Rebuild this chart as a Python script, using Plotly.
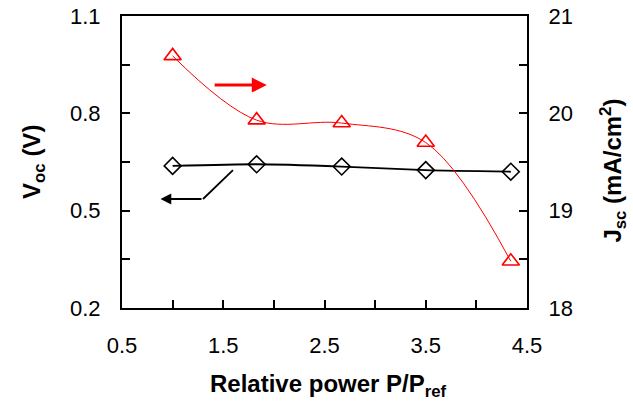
import plotly.graph_objects as go

power = [1.0, 1.83, 2.67, 3.5, 4.34]
voc = [0.638, 0.643, 0.636, 0.625, 0.620]
jsc = [20.59, 19.93, 19.90, 19.70, 18.48]

FONT = "Liberation Sans, Arial, sans-serif"

fig = go.Figure()
fig.add_trace(go.Scatter(
    x=power, y=voc, mode="lines+markers", yaxis="y",
    line=dict(color="black", width=1.8, shape="spline", smoothing=0.6),
    marker=dict(symbol="diamond-open", size=13, color="black", line=dict(width=1.6)),
    showlegend=False))
fig.add_trace(go.Scatter(
    x=power, y=jsc, mode="lines+markers", yaxis="y2",
    line=dict(color="red", width=1, shape="spline", smoothing=1.0),
    marker=dict(symbol="triangle-up-open", size=15, color="red", line=dict(width=1.6)),
    showlegend=False))

# red arrow -> right axis
fig.add_annotation(x=1.93, y=20.29, ax=1.40, ay=20.29, xref="x", yref="y2",
                   axref="x", ayref="y2", showarrow=True, arrowhead=2,
                   arrowsize=1.0, arrowwidth=3, arrowcolor="red", text="")
# black arrow <- left axis
fig.add_shape(type="line", x0=1.596, y0=0.625, x1=1.30, y1=0.536,
              xref="x", yref="y", line=dict(color="black", width=1.8))
fig.add_annotation(x=0.88, y=0.536, ax=1.30, ay=0.536, xref="x", yref="y",
                   axref="x", ayref="y", showarrow=True, arrowhead=2,
                   arrowsize=1.2, arrowwidth=1.8, arrowcolor="black", text="")

tickfont = dict(family=FONT, size=22, color="black")
titlefont = dict(family=FONT, size=24, color="black")

# axis titles
fig.add_annotation(text="<b>Relative power P/P<sub>ref</sub></b>", xref="paper", yref="paper",
                   x=0.51, y=-0.266, xanchor="center", yanchor="middle",
                   showarrow=False, font=titlefont)
fig.add_annotation(text="<b>V<sub>oc</sub> (V)</b>", xref="paper", yref="paper",
                   x=-0.22, y=0.5, xanchor="center", yanchor="middle", textangle=-90,
                   showarrow=False, font=titlefont)
fig.add_annotation(text="<b>J<sub>sc</sub> (mA/cm<sup>2</sup>)</b>", xref="paper", yref="paper",
                   x=1.212, y=0.47, xanchor="center", yanchor="middle", textangle=-90,
                   showarrow=False, font=titlefont)

fig.update_layout(
    width=633, height=402,
    margin=dict(l=122, r=106, t=16, b=94),
    paper_bgcolor="white", plot_bgcolor="white",
    xaxis=dict(range=[0.5, 4.5], tick0=0.5, dtick=1, ticks="inside", ticklen=8,
               tickwidth=2, tickcolor="black", showline=True, linewidth=2,
               linecolor="black", mirror=True, showgrid=False, zeroline=False,
               tickfont=tickfont, ticklabelstandoff=17, automargin=False,
               minor=dict(dtick=0.5, tick0=0.5, ticks="inside", ticklen=8,
                          tickwidth=2, tickcolor="black", showgrid=False)),
    yaxis=dict(range=[0.2, 1.1], tick0=0.2, dtick=0.3, ticks="inside", ticklen=8,
               tickwidth=2, tickcolor="black", showline=True, linewidth=2,
               linecolor="black", showgrid=False, zeroline=False,
               tickformat=".1f", tickfont=tickfont, ticklabelstandoff=15,
               automargin=False,
               minor=dict(dtick=0.15, tick0=0.2, ticks="inside", ticklen=8,
                          tickwidth=2, tickcolor="black", showgrid=False)),
    yaxis2=dict(range=[18, 21], tick0=18, dtick=1, overlaying="y", side="right",
                ticks="inside", ticklen=8, tickwidth=2, tickcolor="black",
                showline=True, linewidth=2, linecolor="black", showgrid=False,
                zeroline=False, tickfont=tickfont, ticklabelstandoff=15,
                automargin=False,
                minor=dict(dtick=0.5, tick0=18, ticks="inside", ticklen=8,
                           tickwidth=2, tickcolor="black", showgrid=False)),
)

fig.write_html("out.html", config={"displayModeBar": False},
               post_script="document.body.style.margin='0';")
